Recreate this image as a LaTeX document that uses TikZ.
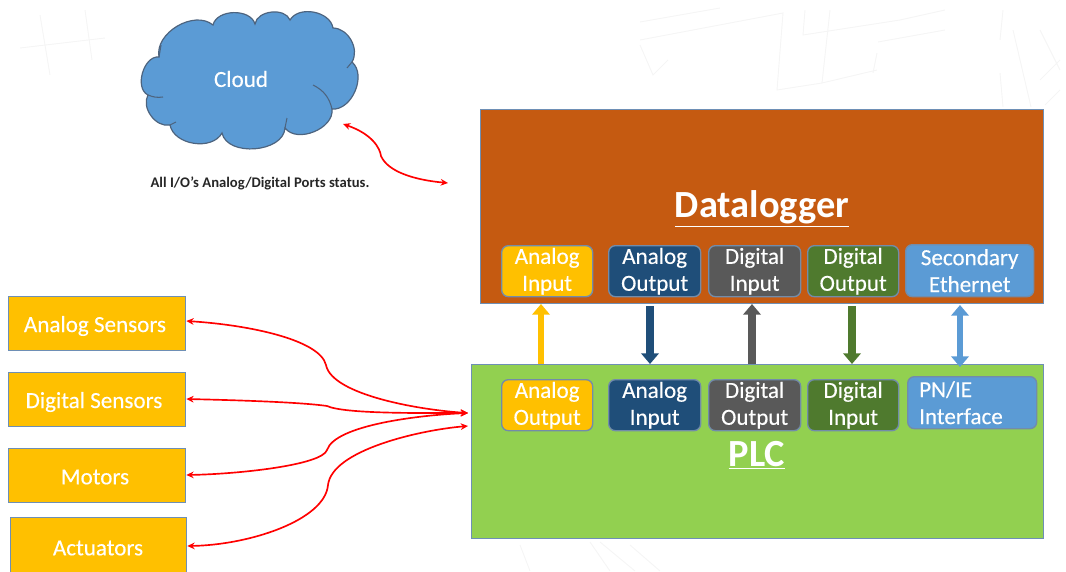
\documentclass[tikz,border=0pt]{standalone}
\usepackage{fontspec}
\setmainfont{Carlito}
\newfontfamily\medf[FakeBold=0.25]{Carlito}
\usetikzlibrary{arrows.meta}
\definecolor{orangeC}{HTML}{C55A11}
\definecolor{greenC}{HTML}{92D050}
\definecolor{yellowC}{HTML}{FFC000}
\definecolor{navyC}{HTML}{1F4E79}
\definecolor{grayC}{HTML}{595959}
\definecolor{leafC}{HTML}{4F7A2E}
\definecolor{blueC}{HTML}{5B9BD5}
\definecolor{edgeC}{HTML}{6E8FB5}
\tikzset{
 x=0.75pt,y=-0.75pt,
 big/.style={draw=edgeC,line width=1pt,inner sep=0pt,anchor=north west},
 port/.style={draw=edgeC!80!gray,line width=1pt,rounded corners=5pt,inner sep=0pt,text=white,font=\medf\fontsize{17.3}{20.2}\selectfont,align=center,anchor=north west},
 side/.style={draw=edgeC,line width=1pt,fill=yellowC,inner sep=0pt,anchor=north west},
 sidetext/.style={inner sep=0pt,text=white,font=\medf\fontsize{17.3}{20}\selectfont},
 title/.style={text=white,font=\bfseries\fontsize{28.8}{32}\selectfont},
 redc/.style={draw=red,line width=1.25pt,{Stealth[length=5.5pt,width=5pt]}-{Stealth[length=5.5pt,width=5pt]}},
 thick1/.style={line width=5.6pt,-{Triangle[length=8pt,width=13pt]}},
 sketch/.style={draw=black!4,line width=0.7pt},
}
\begin{document}
\begin{tikzpicture}
\useasboundingbox (0,0) rectangle (1066,571);
% faint sketch background
\draw[sketch] (20,48)--(105,38) (40,15)--(50,75) (85,10)--(92,60);
\draw[sketch] (640,22)--(720,8) (640,40)--(783,13)--(777,90)--(822,83)--(877,70) (830,10)--(822,83) (805,10)--(803,35)--(900,20)--(945,10) (878,42)--(945,30) (877,53)--(873,73) (640,45)--(653,75)--(668,60) (1003,10)--(1000,40) (1013,30)--(1031,107) (1000,73)--(1003,107) (1040,30)--(1060,70) (1040,80)--(1060,60) (1045,105)--(1060,90);
\draw[sketch] (520,545)--(530,571) (590,542)--(610,571) (600,542)--(635,571) (630,545)--(660,571);
% cloud
\coordinate (c1) at (159,57);
\coordinate (c2) at (213,25);
\coordinate (c3) at (255,24);
\coordinate (c4) at (290,20);
\coordinate (c5) at (333,28);
\coordinate (c6) at (352,62);
\coordinate (c7) at (332,109);
\coordinate (c8) at (285,128);
\coordinate (c9) at (222,133);
\coordinate (c10) at (170,125);
\coordinate (c11) at (148,95);
\draw[draw=edgeC!70!black,line width=0.9pt,fill=blueC]
 (c1) to[bend left=70] (c2) to[bend left=75] (c3) to[bend left=75] (c4) to[bend left=70] (c5)
 to[bend left=60] (c6) to[bend left=72] (c7) to[bend left=75] (c8) to[bend left=82] (c9)
 to[bend left=70] (c10) to[bend left=65] (c11) to[bend left=80] (c1) -- cycle;
\draw[draw=edgeC!70!black,line width=0.8pt] (c6) -- (347,68) (313,85) to[bend left=25] (c7) (c11) to[bend right=15] (163,97) (c8) -- (287,118) (c10) -- (176,122) (c1) -- (161,45);
\node[text=white,font=\medf\fontsize{17.3}{20}\selectfont] (cloudT) at (241,79) {Cloud};
\node[font=\bfseries\fontsize{11}{13}\selectfont,text=black!85] (status) at (260,183) {All I/O's Analog/Digital Ports status.};
\coordinate (cloudEnd) at (343,124);
\coordinate (statusEnd) at (448,183);
\draw[redc] (cloudEnd) .. controls (372,134) and (380,148) .. (381,156) .. controls (388,172) and (415,180) .. (statusEnd);
% main boxes
\node[big,fill=orangeC,minimum width=563*0.75pt,minimum height=194*0.75pt] (dl) at (480,109) {};
\node[big,fill=greenC,minimum width=572*0.75pt,minimum height=174*0.75pt] (plc) at (471,364) {};
\node[title] (dlT) at (762,209) {\underline{Datalogger}};
\node[title] (plcT) at (757,455) {\underline{PLC}};
% datalogger ports
\node[port,fill=yellowC,minimum width=91*0.75pt,minimum height=51*0.75pt] (d1) at (501,245) {Analog\\Input};
\node[port,fill=navyC,minimum width=92*0.75pt,minimum height=51*0.75pt] (d2) at (608,245) {Analog\\Output};
\node[port,fill=grayC,minimum width=92*0.75pt,minimum height=51*0.75pt] (d3) at (708,245) {Digital\\Input};
\node[port,fill=leafC,minimum width=91*0.75pt,minimum height=51*0.75pt] (d4) at (807,245) {Digital\\Output};
\node[port,fill=blueC,minimum width=128*0.75pt,minimum height=52*0.75pt] (d5) at (905,244) {Secondary\\Ethernet};
% plc ports
\node[port,fill=yellowC,minimum width=91*0.75pt,minimum height=51*0.75pt] (p1) at (501,379) {Analog\\Output};
\node[port,fill=navyC,minimum width=92*0.75pt,minimum height=51*0.75pt] (p2) at (608,379) {Analog\\Input};
\node[port,fill=grayC,minimum width=92*0.75pt,minimum height=51*0.75pt] (p3) at (708,379) {Digital\\Output};
\node[port,fill=leafC,minimum width=91*0.75pt,minimum height=51*0.75pt] (p4) at (807,379) {Digital\\Input};
\node[port,fill=blueC,minimum width=129*0.75pt,minimum height=52*0.75pt,align=left,text width=106*0.75pt] (p5) at (907,376) {PN/IE\\Interface};
% side boxes
\node[side,minimum width=177*0.75pt,minimum height=54*0.75pt] (s1) at (8,296) {};
\node[side,minimum width=177*0.75pt,minimum height=54*0.75pt] (s2) at (8,372) {};
\node[side,minimum width=177*0.75pt,minimum height=54*0.75pt] (s3) at (8,448) {};
\node[side,minimum width=176*0.75pt,minimum height=60*0.75pt] (s4) at (10,517) {};
\node[sidetext] (s1T) at (95,326) {Analog Sensors};
\node[sidetext] (s2T) at (94,402) {Digital Sensors};
\node[sidetext] (s3T) at (95,477) {Motors};
\node[sidetext] (s4T) at (98,548) {Actuators};
% vertical arrows
\coordinate (a1t) at (541,304); \coordinate (a1b) at (541,364);
\coordinate (a2t) at (650,306); \coordinate (a2b) at (650,364);
\coordinate (a3t) at (752,304); \coordinate (a3b) at (752,364);
\coordinate (a4t) at (852,306); \coordinate (a4b) at (852,364);
\coordinate (a5t) at (960,305); \coordinate (a5b) at (960,367);
\draw[thick1,draw=yellowC,line width=4.5pt] (a1b) -- (a1t);
\draw[thick1,draw=navyC] (a2t) -- (a2b);
\draw[thick1,draw=grayC] (a3b) -- (a3t);
\draw[thick1,draw=leafC] (a4t) -- (a4b);
\draw[draw=blueC,line width=5.2pt,{Triangle[length=8pt,width=13pt]}-{Triangle[length=8pt,width=13pt]}] (a5t) -- (a5b);
% red connectors
\coordinate (t1) at (468,413); \coordinate (t2) at (468,426);
\draw[redc] (s1.east |- 0,321) .. controls (250,325) and (320,340) .. (326,365) .. controls (332,395) and (420,410) .. (t1);
\draw[redc] (s2.east |- 0,399) .. controls (230,400) and (300,402) .. (327,406) .. controls (345,414) and (420,413) .. (t1);
\draw[redc] (s3.east |- 0,475) .. controls (240,474) and (322,465) .. (327,450) .. controls (335,425) and (420,415) .. (t1);
\draw[redc] (s4.east |- 0,546) .. controls (250,545) and (325,520) .. (328,485) .. controls (332,450) and (420,430) .. (t2);
\end{tikzpicture}
\end{document}
